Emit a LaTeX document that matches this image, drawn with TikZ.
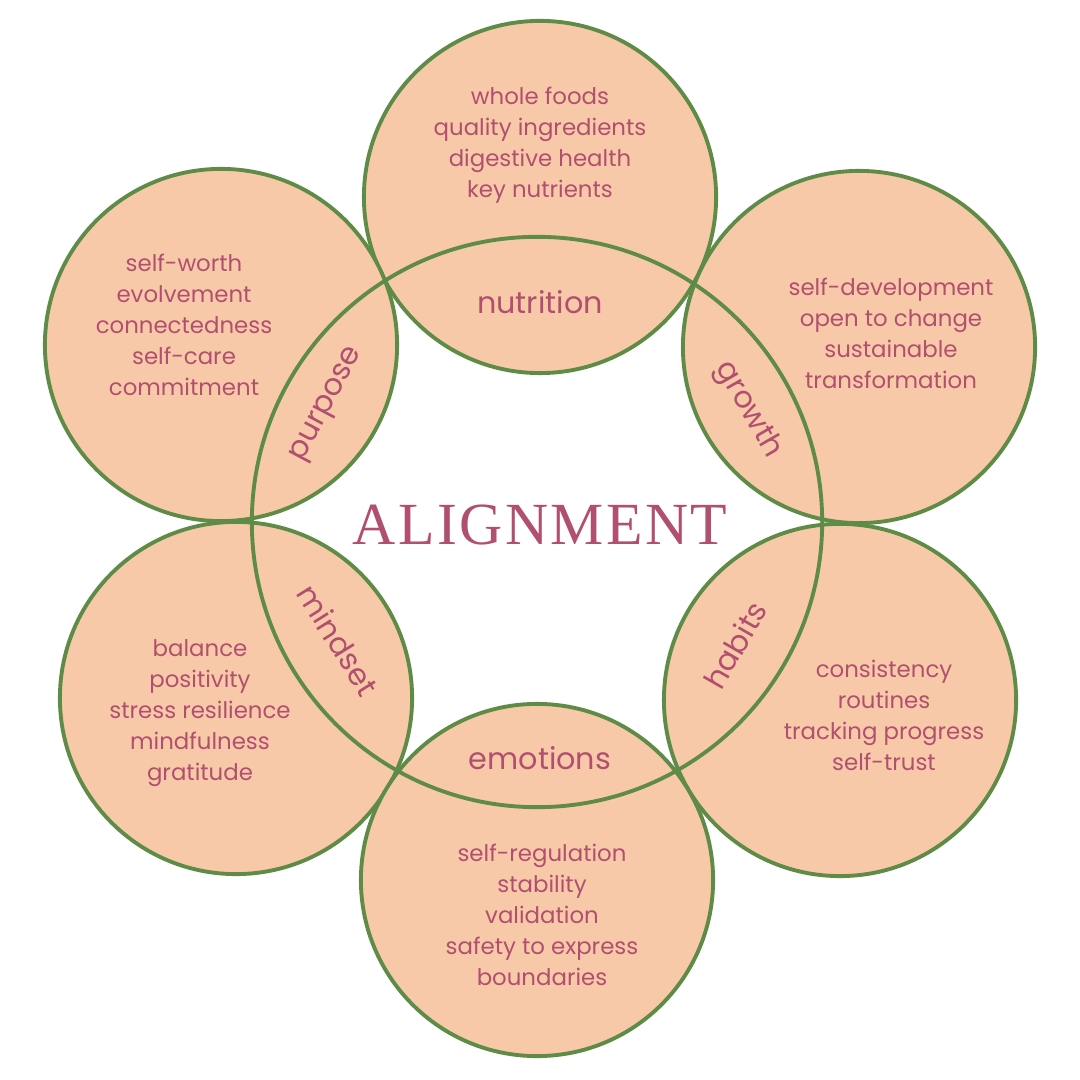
\documentclass[tikz,border=0pt]{standalone}
\usepackage{fontspec}
\setmainfont{Poppins}
\newfontfamily\titlefont[LetterSpace=4]{Liberation Serif}
\definecolor{peach}{HTML}{F8C9A9}
\definecolor{leaf}{HTML}{5E8C46}
\definecolor{rose}{HTML}{B0506E}
\begin{document}
\begin{tikzpicture}[x=0.01cm,y=-0.01cm,
  petal/.style={circle,minimum size=3.52cm,fill=peach,draw=leaf,line width=1.1pt,inner sep=0pt},
  hub/.style={circle,minimum size=5.7cm,draw=leaf,line width=1.1pt,inner sep=0pt},
  body/.style={text=rose,align=center,font=\fontsize{6.5}{8.8}\selectfont,inner sep=1pt},
  tag/.style={text=rose,font=\fontsize{8.6}{10}\selectfont,inner sep=0pt}]
\useasboundingbox[fill=white] (0,0) rectangle (1080,1080);
\node[petal] (top) at (540,197) {};
\node[petal] (ul) at (221,345) {};
\node[petal] (ur) at (859,347) {};
\node[petal] (ll) at (236,698) {};
\node[petal] (lr) at (840,700) {};
\node[petal] (bot) at (537,880) {};
\node[hub] (center) at (537,522) {};
\node[body] (t1) at (540,145) {whole foods\\quality ingredients\\digestive health\\key nutrients};
\node[body] (t2) at (184,325) {self-worth\\evolvement\\connectedness\\self-care\\commitment};
\node[body] (t3) at (891,333) {self-development\\open to change\\sustainable\\transformation};
\node[body] (t4) at (200,713) {balance\\positivity\\stress resilience\\mindfulness\\gratitude};
\node[body] (t5) at (884,715) {consistency\\routines\\tracking progress\\self-trust};
\node[body] (t6) at (542,915) {self-regulation\\stability\\validation\\safety to express\\boundaries};
\node[tag] (l1) at (540,302) {nutrition};
\node[tag] (l2) at (540,758) {emotions};
\node[tag,rotate=62] (l3) at (328,405) {purpose};
\node[tag,rotate=-60] (l4) at (748,410) {growth};
\node[tag,rotate=-58] (l5) at (338,640) {mindset};
\node[tag,rotate=60] (l6) at (735,645) {habits};
\node[text=rose,font=\titlefont\fontsize{17}{20}\selectfont] (title) at (540,525) {ALIGNMENT};
\end{tikzpicture}
\end{document}
